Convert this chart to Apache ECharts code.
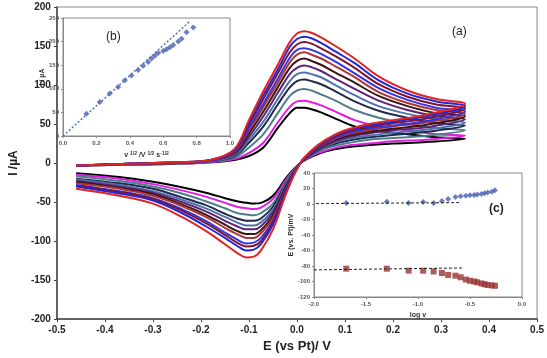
<!DOCTYPE html>
<html>
<head>
<meta charset="utf-8">
<script src="https://cdn.jsdelivr.net/npm/echarts@6/dist/echarts.min.js"></script>
<style>
  html, body { margin: 0; padding: 0; background: #fff; }
  #main { width: 547px; height: 358px; }
</style>
</head>
<body>
<div id="main"></div>
<script>
// potentials (V) of the forward and reverse scans
const fwdE = [-0.46, -0.35, -0.25, -0.18, -0.13, -0.1, -0.07, -0.04, -0.015, 0.0, 0.015, 0.03, 0.05, 0.08, 0.12, 0.17, 0.23, 0.29, 0.35];
const revE = [0.35, 0.27, 0.2, 0.15, 0.1, 0.06, 0.03, 0.007, -0.02, -0.05, -0.075, -0.09, -0.105, -0.125, -0.15, -0.19, -0.24, -0.3, -0.37, -0.46];

// currents (µA), smallest scan rate to largest
const fwd01 = [-3, -2, -1, 1, 4, 9, 20, 45, 64, 71, 71, 69, 65, 57, 47, 41, 37, 33, 31];
const rev01 = [31, 27, 25, 23, 20, 15, 8, 0, -17, -42, -51, -52, -51, -49, -45, -38, -31, -24, -18, -13];
const fwd02 = [-3, -2, -1, 1, 5, 13, 26, 52, 72, 79, 80, 78, 74, 66, 55, 47, 42, 37, 35];
const rev02 = [35, 30, 28, 25, 22, 16, 9, 0, -19, -46, -57, -59, -58, -56, -51, -43, -35, -27, -20, -15];
const fwd03 = [-3, -2, -1, 2, 7, 20, 37, 64, 86, 93, 95, 93, 88, 80, 68, 58, 50, 45, 42];
const rev03 = [42, 35, 32, 30, 25, 19, 10, 0, -21, -52, -64, -67, -66, -64, -58, -49, -39, -30, -23, -17];
const fwd04 = [-3, -2, 0, 2, 9, 26, 47, 75, 97, 105, 107, 105, 101, 92, 79, 67, 58, 51, 48];
const rev04 = [48, 40, 36, 33, 28, 21, 11, 0, -23, -56, -71, -74, -74, -71, -65, -54, -44, -33, -26, -20];
const fwd05 = [-3, -2, 0, 2, 10, 30, 53, 82, 105, 114, 116, 114, 110, 100, 87, 73, 63, 56, 52];
const rev05 = [52, 43, 39, 35, 30, 22, 12, 0, -24, -60, -76, -80, -80, -76, -69, -58, -47, -36, -28, -21];
const fwd06 = [-3, -1, 0, 3, 12, 34, 60, 90, 114, 122, 125, 123, 118, 108, 95, 80, 68, 60, 56];
const rev06 = [56, 46, 42, 38, 32, 23, 12, 0, -26, -63, -81, -85, -85, -81, -74, -62, -50, -38, -30, -23];
const fwd07 = [-3, -1, 0, 3, 13, 38, 66, 97, 122, 131, 134, 131, 126, 116, 103, 86, 73, 64, 60];
const rev07 = [60, 49, 44, 40, 34, 25, 13, 0, -27, -67, -86, -91, -91, -87, -79, -66, -53, -40, -32, -24];
const fwd08 = [-3, -1, 0, 3, 14, 42, 72, 103, 129, 139, 142, 139, 134, 124, 110, 91, 77, 68, 63];
const rev08 = [63, 52, 47, 42, 36, 26, 14, 0, -29, -70, -90, -96, -96, -91, -83, -69, -55, -42, -33, -26];
const fwd09 = [-3, -1, 1, 3, 15, 45, 76, 108, 135, 145, 147, 145, 140, 130, 115, 96, 81, 71, 66];
const rev09 = [66, 54, 48, 44, 37, 27, 14, 0, -30, -74, -96, -102, -103, -98, -89, -74, -59, -45, -36, -28];
const fwd10 = [-3, -1, 1, 4, 16, 49, 82, 115, 142, 152, 155, 153, 147, 137, 122, 101, 85, 75, 70];
const rev10 = [70, 57, 51, 46, 39, 28, 15, 0, -31, -76, -100, -106, -107, -102, -92, -77, -61, -46, -37, -29];
const fwd11 = [-3, -1, 1, 4, 17, 52, 87, 120, 149, 159, 162, 160, 154, 143, 128, 106, 89, 79, 73];
const rev11 = [73, 60, 53, 48, 41, 29, 15, 0, -33, -79, -104, -111, -112, -106, -96, -81, -64, -48, -39, -30];
const fwd12 = [-3, -1, 1, 4, 18, 55, 92, 126, 155, 166, 169, 167, 161, 150, 134, 111, 93, 82, 76];
const rev12 = [76, 62, 55, 50, 42, 30, 16, 0, -35, -85, -112, -120, -121, -115, -104, -87, -69, -52, -42, -33];

const curveColors = ['#000000', '#e01ee0', '#4f7c8c', '#1f2a4c', '#4e72ad', '#5c2377',
  '#3c1414', '#b03434', '#3535e0', '#7a1533', '#2626d6', '#e02424'];

// inset (b): peak current vs square root of scan rate
const sqrtV = [0.14, 0.22, 0.28, 0.33, 0.37, 0.41, 0.45, 0.48, 0.51, 0.53, 0.55, 0.57, 0.60, 0.62, 0.64, 0.66, 0.69, 0.71, 0.74, 0.78];
const peakI = [47, 72, 90, 104, 118, 128, 140, 149, 157, 164, 170, 176, 180, 184, 188, 193, 200, 206, 220, 230];
const fitB = [[0, 0], [0.76, 243]];

// inset (c): peak potentials vs log scan rate
const logV = [-1.69, -1.30, -1.09, -0.95, -0.85, -0.77, -0.71, -0.64, -0.59, -0.54, -0.50, -0.46, -0.43, -0.39, -0.36, -0.33, -0.29, -0.26];
const epa = [1.3, 3, 1.3, 2.5, 1.3, 4, 6.5, 9, 10, 10.8, 11.2, 11.6, 12.3, 13, 13.8, 14.7, 15.9, 17.6];
const epc = [-83.5, -83.5, -86, -86, -87, -89, -91.5, -92.5, -94.5, -97.5, -99, -100, -101, -102.5, -103.5, -104.5, -105, -105.5];
const fitA = [[-1.98, 0.5], [-0.6, 1.8]];
const fitC = [[-2.0, -85], [-0.56, -82.5]];

const fwdAll = [fwd01, fwd02, fwd03, fwd04, fwd05, fwd06, fwd07, fwd08, fwd09, fwd10, fwd11, fwd12];
const revAll = [rev01, rev02, rev03, rev04, rev05, rev06, rev07, rev08, rev09, rev10, rev11, rev12];

const font = 'Arial, "Liberation Sans", sans-serif';
const tickFmt = v => v.toFixed(1);

function smallAxis(extra) {
  return Object.assign({
    axisLine: { show: true, onZero: false, lineStyle: { color: '#888', width: 1 } },
    axisTick: { show: true, length: 2, lineStyle: { color: '#888' } },
    axisLabel: { fontSize: 6, fontWeight: 'bold', color: '#555', fontFamily: font, margin: 4 },
    splitLine: { show: false },
    nameTextStyle: { fontSize: 7, fontWeight: 'bold', color: '#333', fontFamily: font }
  }, extra);
}

const series = [];
for (let i = 0; i < 12; i++) {
  // one scan: forward then reverse
  const pts = fwdE.map((e, k) => [e, fwdAll[i][k]])
    .concat(revE.slice(1).map((e, k) => [e, revAll[i][k + 1]]));
  series.push({
    type: 'line', xAxisIndex: 0, yAxisIndex: 0, smooth: 0.35, symbol: 'none',
    lineStyle: { color: curveColors[i], width: 2 },
    data: pts, z: 5
  });
}

// inset b
series.push({
  type: 'line', xAxisIndex: 1, yAxisIndex: 1, symbol: 'none',
  lineStyle: { color: '#5a6fb8', width: 1.5, type: [2, 2] },
  data: fitB
});
series.push({
  type: 'scatter', xAxisIndex: 1, yAxisIndex: 1, symbol: 'diamond', symbolSize: 6,
  itemStyle: { color: '#4a5fae' },
  data: sqrtV.map((x, k) => [x, peakI[k]])
});

// inset c
series.push({
  type: 'line', xAxisIndex: 2, yAxisIndex: 2, symbol: 'none',
  lineStyle: { color: '#222', width: 1, type: [3, 2] }, data: fitA
});
series.push({
  type: 'line', xAxisIndex: 2, yAxisIndex: 2, symbol: 'none',
  lineStyle: { color: '#222', width: 1, type: [3, 2] }, data: fitC
});
series.push({
  type: 'scatter', xAxisIndex: 2, yAxisIndex: 2, symbol: 'diamond', symbolSize: 6,
  itemStyle: { color: '#4a5fae' },
  data: logV.map((x, k) => [x, epa[k]])
});
series.push({
  type: 'scatter', xAxisIndex: 2, yAxisIndex: 2, symbol: 'rect', symbolSize: 6,
  itemStyle: { color: '#993333' },
  data: logV.map((x, k) => [x, epc[k]])
});

const chart = echarts.init(document.getElementById('main'), null, { renderer: 'canvas' });
chart.setOption({
  animation: false,
  backgroundColor: '#fff',
  grid: [
    { left: 36, top: 7, width: 504, height: 318, show: true, borderColor: '#888', borderWidth: 1 },
    { left: 63, top: 18, width: 167, height: 118, show: true, borderColor: '#888', borderWidth: 1 },
    { left: 314, top: 173, width: 208, height: 124, show: true, borderColor: '#888', borderWidth: 1 }
  ],
  xAxis: [
    {
      gridIndex: 0, type: 'value', min: -0.5, max: 0.5, interval: 0.1,
      axisLine: { onZero: false, lineStyle: { color: '#444', width: 1.5 } },
      axisTick: { show: true, length: 3, lineStyle: { color: '#444' } },
      axisLabel: { fontSize: 10, fontWeight: 'bold', color: '#222', fontFamily: font, formatter: tickFmt, margin: 6 },
      splitLine: { show: false },
      name: 'E (vs Pt)/ V', nameLocation: 'middle', nameGap: 15,
      nameTextStyle: { fontSize: 13, fontWeight: 'bold', color: '#222', fontFamily: font }
    },
    smallAxis({
      gridIndex: 1, type: 'value', min: 0, max: 1, interval: 0.2,
      axisLabel: { fontSize: 6, fontWeight: 'bold', color: '#555', fontFamily: font, margin: 4, formatter: tickFmt },
      name: 'v {s|1/2} /V {s|1/2} s{s|-1/2}', nameLocation: 'middle', nameGap: 15,
      nameTextStyle: {
        fontSize: 7, fontWeight: 'bold', color: '#333', fontFamily: font,
        rich: { s: { fontSize: 5, fontWeight: 'bold', color: '#333', padding: [0, 0, 4, 0] } }
      }
    }),
    smallAxis({
      gridIndex: 2, type: 'value', min: -2, max: 0, interval: 0.5,
      axisLabel: { fontSize: 6, fontWeight: 'bold', color: '#555', fontFamily: font, margin: 4, formatter: tickFmt },
      name: 'log v', nameLocation: 'middle', nameGap: 15
    })
  ],
  yAxis: [
    {
      gridIndex: 0, type: 'value', min: -200, max: 200, interval: 50,
      axisLine: { show: true, onZero: false, lineStyle: { color: '#444', width: 1.5 } },
      axisTick: { show: true, length: 3, lineStyle: { color: '#444' } },
      axisLabel: { fontSize: 10, fontWeight: 'bold', color: '#222', fontFamily: font, margin: 6 },
      splitLine: { show: false },
      name: 'I /µA', nameLocation: 'middle', nameGap: 31,
      nameTextStyle: { fontSize: 12, fontWeight: 'bold', color: '#222', fontFamily: font }
    },
    smallAxis({
      gridIndex: 1, type: 'value', min: 0, max: 250, interval: 50,
      name: 'I / µA', nameLocation: 'middle', nameGap: 13
    }),
    smallAxis({
      gridIndex: 2, type: 'value', min: -120, max: 40, interval: 20,
      name: 'E (vs. Pt)/mV', nameLocation: 'middle', nameGap: 17
    })
  ],
  graphic: [
    { type: 'text', left: 452, top: 26, style: { text: '(a)', fontSize: 12, fill: '#222', fontFamily: font } },
    { type: 'text', left: 106, top: 31, style: { text: '(b)', fontSize: 12, fill: '#222', fontFamily: font } },
    { type: 'text', left: 489, top: 203, style: { text: '(c)', fontSize: 12, fontWeight: 'bold', fill: '#222', fontFamily: font } }
  ],
  series: series
});
</script>
</body>
</html>
